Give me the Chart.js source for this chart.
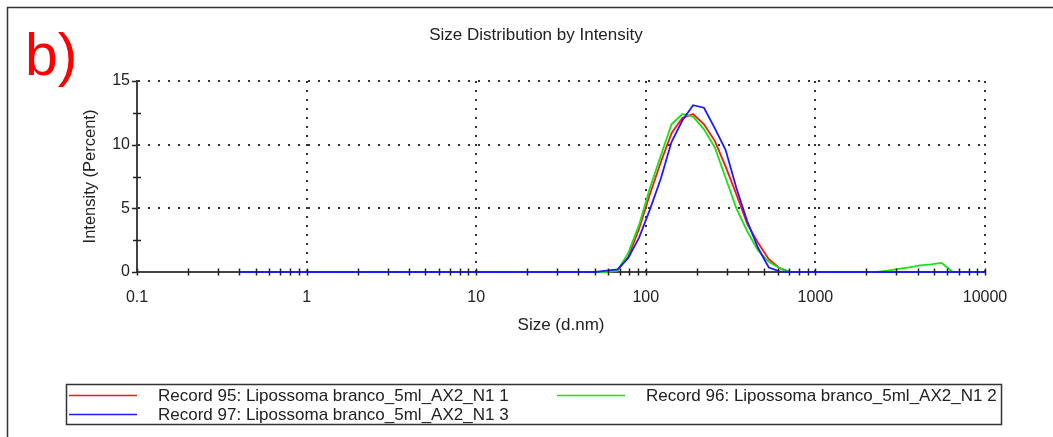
<!DOCTYPE html>
<html>
<head>
<meta charset="utf-8">
<title>Size Distribution by Intensity</title>
<script src="https://cdn.jsdelivr.net/npm/chart.js@4.4.1/dist/chart.umd.min.js"></script>
<style>
  html, body { margin: 0; padding: 0; background: #fff; }
  #wrap { width: 1053px; height: 437px; }
</style>
</head>
<body>
<div id="wrap"><canvas id="sizeChart" width="1053" height="437"></canvas></div>
<script>
// ================================
// Data: size classes (d.nm) and intensity (%) per record
// ================================
const sizeBins = [
    0.4, 0.4632, 0.5365, 0.6213, 0.7195, 0.8332, 0.9649, 1.117, 1.294, 1.499,
    1.736, 2.01, 2.328, 2.696, 3.122, 3.615, 4.187, 4.849, 5.615, 6.503,
    7.531, 8.721, 10.1, 11.7, 13.54, 15.69, 18.17, 21.04, 24.36, 28.21,
    32.67, 37.84, 43.82, 50.75, 58.77, 68.06, 78.82, 91.28, 105.7, 122.4,
    141.8, 164.2, 190.1, 220.2, 255.0, 295.3, 342.0, 396.1, 458.7, 531.2,
    615.1, 712.4, 825.0, 955.4, 1106, 1281, 1484, 1718, 1990, 2305,
    2669, 3091, 3580, 4145, 4801, 5560, 6439, 7456, 8635, 10000
];

const record95 = [
    0, 0, 0, 0, 0, 0, 0, 0, 0, 0,
    0, 0, 0, 0, 0, 0, 0, 0, 0, 0,
    0, 0, 0, 0, 0, 0, 0, 0, 0, 0,
    0, 0, 0, 0, 0, 0.1, 1.2, 3.4, 6.1, 8.6,
    10.9, 12.1, 12.4, 11.6, 10.3, 8.3, 6.1, 3.8, 2.3, 1.0,
    0.3, 0, 0, 0, 0, 0, 0, 0, 0, 0,
    0, 0, 0, 0, 0, 0, 0, 0, 0, 0
];

const record96 = [
    0, 0, 0, 0, 0, 0, 0, 0, 0, 0,
    0, 0, 0, 0, 0, 0, 0, 0, 0, 0,
    0, 0, 0, 0, 0, 0, 0, 0, 0, 0,
    0, 0, 0, 0, 0, 0.1, 1.5, 3.7, 6.6, 9.1,
    11.6, 12.4, 12.2, 11.2, 9.8, 7.4, 5.0, 3.2, 1.7, 0.8,
    0.3, 0, 0, 0, 0, 0, 0, 0, 0, 0,
    0.1, 0.25, 0.37, 0.52, 0.6, 0.71, 0, 0, 0, 0
];

const record97 = [
    0, 0, 0, 0, 0, 0, 0, 0, 0, 0,
    0, 0, 0, 0, 0, 0, 0, 0, 0, 0,
    0, 0, 0, 0, 0, 0, 0, 0, 0, 0,
    0, 0, 0, 0, 0.1, 0.2, 1.1, 2.7, 4.9, 7.3,
    10.2, 11.9, 13.1, 12.9, 11.3, 9.6, 6.6, 4.0, 1.9, 0.35,
    0.05, 0, 0, 0, 0, 0, 0, 0, 0, 0,
    0, 0, 0, 0, 0, 0, 0, 0, 0, 0
];

const seriesLabels = [
    'Record 95: Lipossoma branco_5ml_AX2_N1 1',
    'Record 96: Lipossoma branco_5ml_AX2_N1 2',
    'Record 97: Lipossoma branco_5ml_AX2_N1 3'
];
const seriesColors = ['#ff1414', '#14e614', '#1c1cff'];

const xTickValues = [0.1, 1, 10, 100, 1000, 10000];
const xTickLabels = ['0.1', '1', '10', '100', '1000', '10000'];
const yTickValues = [0, 5, 10, 15];
const yMinorTicks = [2.5, 7.5, 12.5];

const FONT = "'Liberation Sans', Arial, sans-serif";
const TEXT = '#222';

// ================================
// Frame, panel letter, title, tick marks, legend
// ================================
const decorPlugin = {
    id: 'decor',
    beforeDraw(chart) {
        const { ctx, width, height } = chart;
        ctx.save();
        ctx.fillStyle = '#fff';
        ctx.fillRect(0, 0, width, height);

        ctx.strokeStyle = '#333';
        ctx.lineWidth = 1.5;
        ctx.beginPath();
        ctx.moveTo(7.5, height);
        ctx.lineTo(7.5, 7.5);
        ctx.lineTo(width, 7.5);
        ctx.stroke();

        ctx.fillStyle = '#ff0000';
        ctx.font = '59px ' + FONT;
        ctx.textBaseline = 'alphabetic';
        ctx.textAlign = 'left';
        ctx.fillText('b)', 25, 75);

        ctx.fillStyle = TEXT;
        ctx.font = '17px ' + FONT;
        ctx.textAlign = 'center';
        ctx.textBaseline = 'middle';
        ctx.fillText('Size Distribution by Intensity', 536, 35);
        ctx.restore();
    },
    afterDraw(chart) {
        const { ctx } = chart;
        const xs = chart.scales.x, ys = chart.scales.y;
        const base = Math.round(ys.getPixelForValue(0));
        const left = Math.round(xs.getPixelForValue(xTickValues[0]));

        ctx.save();
        ctx.strokeStyle = '#222';
        ctx.lineWidth = 1.5;
        ctx.beginPath();
        // x ticks: decades plus 2..9 in between
        xTickValues.forEach(d => {
            for (let m = 1; m <= 9; m++) {
                const v = d * m;
                if (v > xTickValues[xTickValues.length - 1] * 1.0001) break;
                const x = Math.round(xs.getPixelForValue(v)) + 0.5;
                ctx.moveTo(x, base - 3.5);
                ctx.lineTo(x, base + 3.5);
            }
        });
        // y ticks
        yTickValues.forEach(v => {
            const y = Math.round(ys.getPixelForValue(v)) + 0.5;
            ctx.moveTo(left - 5, y);
            ctx.lineTo(left, y);
        });
        yMinorTicks.forEach(v => {
            const y = Math.round(ys.getPixelForValue(v)) + 0.5;
            ctx.moveTo(left - 4, y);
            ctx.lineTo(left + 4, y);
        });
        ctx.stroke();

        // legend box
        ctx.strokeStyle = '#333';
        ctx.lineWidth = 1.5;
        ctx.strokeRect(66.5, 384.5, 935, 40);

        const slots = [{ x: 69, y: 395 }, { x: 557, y: 395 }, { x: 69, y: 414 }];
        ctx.font = '17px ' + FONT;
        ctx.textAlign = 'left';
        ctx.textBaseline = 'middle';
        chart.data.datasets.forEach((ds, i) => {
            const s = slots[i];
            ctx.strokeStyle = ds.borderColor;
            ctx.lineWidth = 1.5;
            ctx.beginPath();
            ctx.moveTo(s.x, s.y + 0.5);
            ctx.lineTo(s.x + 68, s.y + 0.5);
            ctx.stroke();
            ctx.fillStyle = TEXT;
            ctx.fillText(ds.label, s.x + 89, s.y + 1);
        });
        ctx.restore();
    }
};

// ================================
// Chart
// ================================
const records = [record95, record96, record97];
const datasets = records.map((vals, i) => ({
    label: seriesLabels[i],
    data: sizeBins.map((size, j) => ({ x: size, y: vals[j] })),
    borderColor: seriesColors[i],
    backgroundColor: seriesColors[i],
    borderWidth: 1.8,
    pointRadius: 0,
    tension: 0,
    fill: false,
    clip: 4, // keep the zero baseline fully visible over the axis
    order: records.length - 1 - i // last record drawn on top
}));

new Chart(document.getElementById('sizeChart'), {
    type: 'line',
    data: { datasets },
    options: {
        responsive: false,
        animation: false,
        events: [],
        layout: { padding: { left: 0, right: 68, top: 81, bottom: 101 } },
        plugins: {
            legend: { display: false },
            title: { display: false },
            tooltip: { enabled: false }
        },
        scales: {
            x: {
                type: 'logarithmic',
                min: 0.1,
                max: 10000,
                afterBuildTicks: s => { s.ticks = xTickValues.map(v => ({ value: v, major: true })); },
                afterFit: s => { s.height = 64; },
                ticks: {
                    callback: (v, i) => xTickLabels[i],
                    color: TEXT,
                    font: { family: FONT, size: 16 },
                    padding: 16,
                    maxRotation: 0,
                    autoSkip: false
                },
                grid: { color: '#333', lineWidth: 2, drawTicks: false },
                border: { display: true, color: '#444', width: 2, dash: [2, 7] },
                title: {
                    display: true,
                    text: 'Size (d.nm)',
                    color: TEXT,
                    font: { family: FONT, size: 17 },
                    padding: { top: 0, bottom: 0 }
                }
            },
            y: {
                min: 0,
                max: 15,
                afterBuildTicks: s => { s.ticks = yTickValues.map(v => ({ value: v })); },
                afterFit: s => { s.width = 137; },
                ticks: {
                    color: TEXT,
                    font: { family: FONT, size: 16 },
                    padding: 7
                },
                grid: { color: '#333', lineWidth: 2, drawTicks: false },
                border: { display: true, color: '#444', width: 2, dash: [2, 8] },
                title: {
                    display: true,
                    text: 'Intensity (Percent)',
                    color: TEXT,
                    font: { family: FONT, size: 16.5 },
                    padding: { top: 81, bottom: 0 }
                }
            }
        }
    },
    plugins: [decorPlugin]
});
</script>
</body>
</html>
